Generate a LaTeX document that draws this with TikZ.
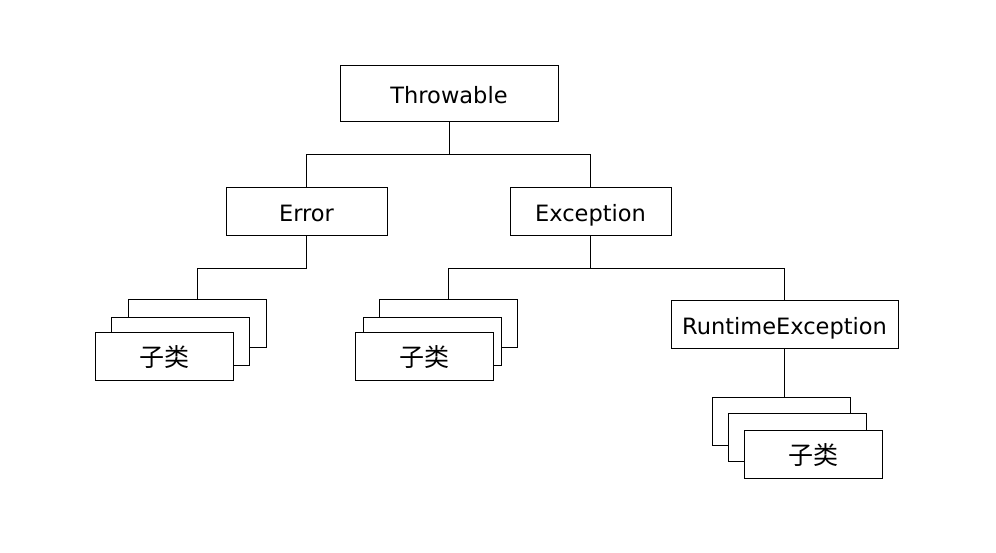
\documentclass[tikz,border=0pt]{standalone}
\usepackage{fontspec}
\setmainfont{DejaVu Sans}
\newfontfamily\cjk{Noto Sans CJK SC}
\usepackage{tikz}
\tikzset{
  cls/.style={draw=black, fill=white, line width=0.8pt, inner sep=0pt,
    text height=22pt, text depth=1pt,
    minimum width=161pt, minimum height=48pt, font=\fontsize{22.5}{27}\selectfont},
  sub/.style={cls, minimum width=138pt, font=\cjk\fontsize{25}{28}\selectfont},
  link/.style={draw=black, line width=0.8pt}
}

\begin{document}
\begin{tikzpicture}[x=1pt, y=-1pt]
  \useasboundingbox (0,0) rectangle (996,553);
  % top levels
  \node[cls, minimum width=218pt, minimum height=56pt] (thr) at (449,93) {Throwable};
  \node[cls] (err) at (306.5,211) {Error};
  \node[cls] (exc) at (590.5,211) {Exception};
  \node[cls, minimum width=227pt] (rte) at (784.5,324) {RuntimeException};
  % stacks of subclasses
  \node[sub] (ea) at (197.5,323.5) {};
  \node[sub] (eb) at (180.5,341) {};
  \node[sub] (ec) at (164,356) {子类};
  \node[sub] (xa) at (448.5,323.5) {};
  \node[sub] (xb) at (432.5,341) {};
  \node[sub] (xc) at (424,356) {子类};
  \node[sub] (ra) at (781.5,421.5) {};
  \node[sub] (rb) at (797.5,437.5) {};
  \node[sub] (rc) at (813,454) {子类};
  % connectors
  \draw[link] (thr.south) -- ++(0,33) coordinate (tj);
  \draw[link] (tj) -| (err.north);
  \draw[link] (tj) -| (exc.north);
  \draw[link] (err.south) -- ++(0,33) -| (ea.north);
  \draw[link] (exc.south) -- ++(0,33) coordinate (xj);
  \draw[link] (xj) -| (xa.north);
  \draw[link] (xj) -| (rte.north);
  \draw[link] (rte.south) -- (rte.south |- ra.north);
\end{tikzpicture}
\end{document}
